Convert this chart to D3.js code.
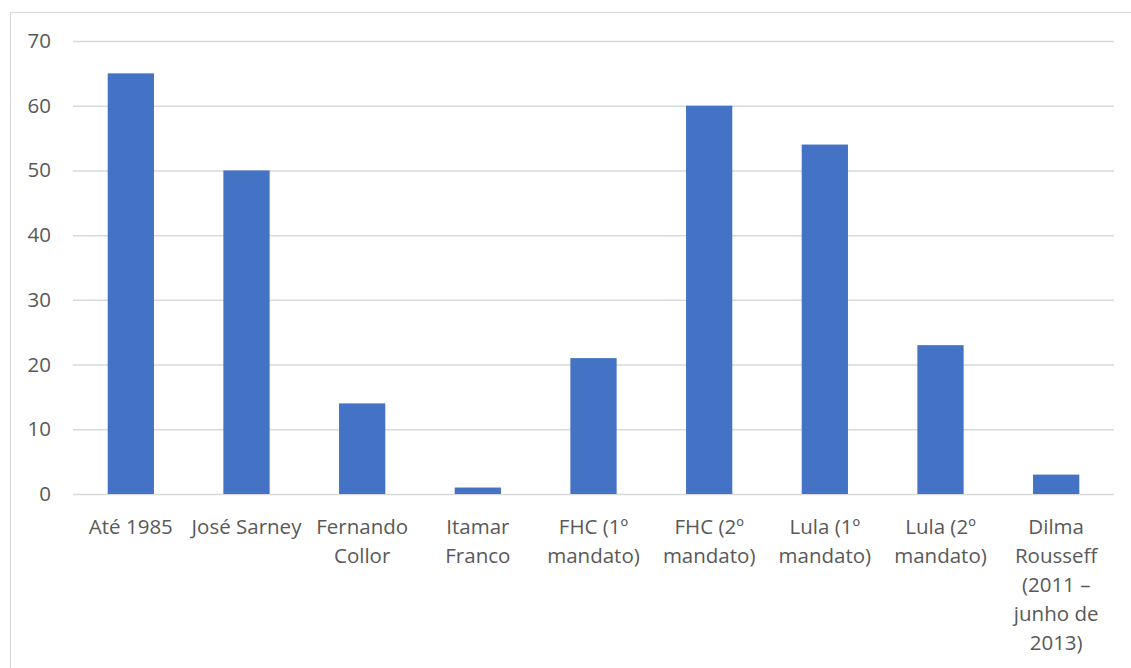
<!DOCTYPE html>
<html><head><meta charset="utf-8">
<script src="https://cdn.jsdelivr.net/npm/d3@7"></script>
<style>body{margin:0;background:#fff}svg{display:block}text{font-family:"Open Sans",sans-serif;fill:#595959}</style>
</head><body>
<svg id="c" width="1131" height="668"></svg>
<script>
const categories = ["Até 1985","José Sarney","Fernando\nCollor","Itamar\nFranco","FHC (1º\nmandato)","FHC (2º\nmandato)","Lula (1º\nmandato)","Lula (2º\nmandato)","Dilma\nRousseff\n(2011 –\njunho de\n2013)"];
const values = [65,50,14,1,21,60,54,23,3];
const yTicks = [0,10,20,30,40,50,60,70];

const svg = d3.select("#c");
const m = {left:73, right:1114, top:41, bottom:494};
svg.append("rect").attr("x",10.5).attr("y",12.5).attr("width",1200).attr("height",700)
  .attr("fill","none").attr("stroke","#d9d9d9");
const x = d3.scaleBand().domain(categories).range([m.left,m.right]).padding(0);
const y = d3.scaleLinear().domain([0,70]).range([m.bottom,m.top]);

const ya = svg.append("g").attr("transform",`translate(${m.left},0)`)
  .call(d3.axisLeft(y).tickValues(yTicks).tickSize(-(m.right-m.left)).tickPadding(22).tickFormat(d3.format("d")));
ya.select(".domain").remove();
ya.selectAll(".tick line").attr("stroke","#d9d9d9").attr("stroke-width",1.5);
ya.selectAll(".tick text").attr("font-size",20.5).style("fill","#595959");

const bw = x.bandwidth()*0.4;
svg.append("g").selectAll("rect").data(values).join("rect")
  .attr("x",(d,i)=>x(categories[i])+x.bandwidth()/2-bw/2)
  .attr("width",bw)
  .attr("y",d=>y(d))
  .attr("height",d=>y(0)-y(d))
  .attr("fill","#4472C4");

const lab = svg.append("g");
categories.forEach(c=>{
  const t = lab.append("text").attr("text-anchor","middle").attr("font-size",20.5)
    .attr("x",x(c)+x.bandwidth()/2).attr("y",534);
  c.split("\n").forEach((ln,j)=>{
    t.append("tspan").attr("x",x(c)+x.bandwidth()/2).attr("y",534+j*29).text(ln);
  });
});
</script>
</body></html>
